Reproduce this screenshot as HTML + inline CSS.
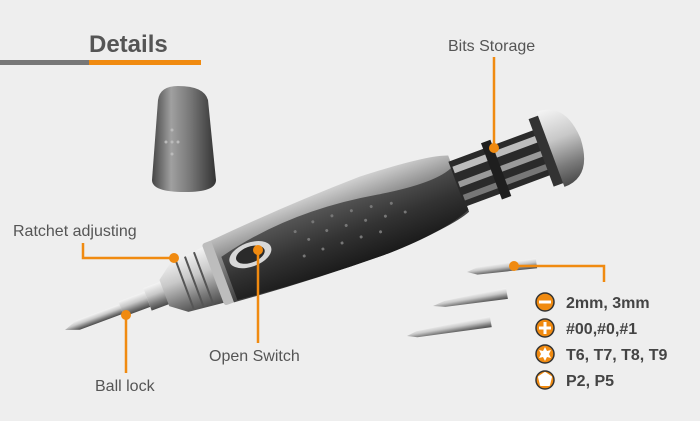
<!DOCTYPE html>
<html><head><meta charset="utf-8"><style>
html,body{margin:0;padding:0;background:#eeeeee;}
svg{display:block;}
text{font-family:"Liberation Sans","DejaVu Sans",sans-serif;}
</style></head><body>
<svg width="700" height="421" viewBox="0 0 700 421" xmlns="http://www.w3.org/2000/svg">
<defs>
<linearGradient id="silver" x1="0" y1="0" x2="0" y2="1">
<stop offset="0" stop-color="#f4f4f4"/><stop offset="0.4" stop-color="#c8c8c8"/><stop offset="0.75" stop-color="#7a7a7a"/><stop offset="1" stop-color="#4a4a4a"/></linearGradient>
<linearGradient id="body" x1="0" y1="0" x2="0" y2="1">
<stop offset="0" stop-color="#d0d0d0"/><stop offset="0.35" stop-color="#8a8a8a"/><stop offset="1" stop-color="#333"/></linearGradient>
<linearGradient id="rub" x1="0" y1="0" x2="0" y2="1">
<stop offset="0" stop-color="#555"/><stop offset="0.5" stop-color="#333"/><stop offset="1" stop-color="#1a1a1a"/></linearGradient>
<linearGradient id="cap" x1="0" y1="0" x2="1" y2="0">
<stop offset="0" stop-color="#444"/><stop offset="0.3" stop-color="#a0a0a0"/><stop offset="0.6" stop-color="#777"/><stop offset="1" stop-color="#333"/></linearGradient>
</defs>

<text x="89" y="52" font-size="24" font-weight="bold" fill="#555">Details</text>
<rect x="0" y="60" width="89" height="5" fill="#777"/>
<rect x="89" y="60" width="112" height="5" fill="#f08a10"/>

<path d="M158 100 Q160 86 178 86 Q204 86 208 100 L216 180 Q216 192 185 192 Q152 192 152 180 Z" fill="url(#cap)"/>
<g fill="#bbb"><circle cx="172" cy="130" r="1.5"/><circle cx="172" cy="142" r="1.5"/><circle cx="172" cy="154" r="1.5"/><circle cx="166" cy="142" r="1.5"/><circle cx="178" cy="142" r="1.5"/></g>

<g transform="translate(65,330) rotate(-20.4)">
  <path d="M0 0 L14 -5 L60 -5 L60 5 L14 5 Z" fill="url(#silver)"/>
  <rect x="60" y="-8" width="28" height="16" fill="url(#silver)"/>
  <rect x="88" y="-12" width="20" height="24" fill="url(#silver)"/>
  <path d="M106 -14 L122 -26 L160 -30 L160 30 L122 26 L106 14 Z" fill="url(#silver)"/>
  <g stroke="#555" stroke-width="2"><line x1="128" y1="-25" x2="128" y2="25"/><line x1="138" y1="-27" x2="138" y2="27"/><line x1="148" y1="-28" x2="148" y2="28"/></g>
  <rect x="158" y="-33" width="12" height="66" rx="3" fill="#bdbdbd"/>
  <path d="M168 -33 Q250 -40 330 -41 Q400 -38 420 -30 L420 30 Q400 38 330 41 Q250 40 168 33 Z" fill="url(#body)"/>
  <path d="M172 -14 Q250 -34 340 -18 Q400 -8 420 -18 L420 28 Q390 40 330 41 Q250 40 172 32 Z" fill="url(#rub)"/>
  <ellipse cx="200" cy="-6" rx="22" ry="12" fill="#d8d8d8"/>
  <ellipse cx="200" cy="-6" rx="15" ry="8" fill="#2a2a2a"/>
  <g fill="#777">
    <circle cx="250" cy="-12" r="1.5"/><circle cx="270" cy="-15" r="1.5"/><circle cx="290" cy="-14" r="1.5"/><circle cx="310" cy="-12" r="1.5"/><circle cx="330" cy="-9" r="1.5"/><circle cx="350" cy="-5" r="1.5"/>
    <circle cx="260" cy="0" r="1.5"/><circle cx="280" cy="-2" r="1.5"/><circle cx="300" cy="0" r="1.5"/><circle cx="320" cy="2" r="1.5"/><circle cx="340" cy="5" r="1.5"/><circle cx="360" cy="8" r="1.5"/>
    <circle cx="250" cy="14" r="1.5"/><circle cx="270" cy="14" r="1.5"/><circle cx="290" cy="15" r="1.5"/><circle cx="310" cy="16" r="1.5"/><circle cx="330" cy="18" r="1.5"/>
  </g>
  <rect x="418" y="-24" width="94" height="48" fill="#2a2a2a"/>
  <rect x="420" y="-18" width="90" height="7" fill="#bdbdbd"/>
  <rect x="420" y="-2" width="90" height="6" fill="#9a9a9a"/>
  <rect x="420" y="12" width="90" height="6" fill="#777"/>
  <rect x="455" y="-30" width="10" height="60" fill="#1e1e1e"/>
  <rect x="508" y="-36" width="12" height="72" fill="#333"/>
  <path d="M518 -40 Q548 -40 550 0 Q548 40 518 40 Z" fill="url(#silver)"/>
</g>

<g transform="translate(467,272) rotate(-8)"><path d="M0 0 L10 -3 L70 -4 L70 6 L10 4 Z" fill="url(#silver)"/></g>
<g transform="translate(433,306) rotate(-10)"><path d="M0 0 L12 -3 L75 -5 L75 6 L12 3 Z" fill="url(#silver)"/></g>
<g transform="translate(407,336) rotate(-10)"><path d="M0 0 L10 -3 L85 -5 L85 6 L10 3 Z" fill="url(#silver)"/></g>

<g stroke="#f08a10" stroke-width="2.5" fill="none">
  <path d="M494 57 L494 148"/>
  <path d="M83 243 L83 258 L174 258"/>
  <path d="M258 250 L258 343"/>
  <path d="M126 315 L126 373"/>
  <path d="M514 266 L604 266 L604 282"/>
</g>
<g fill="#f08a10">
  <circle cx="494" cy="148" r="5"/><circle cx="174" cy="258" r="5"/><circle cx="258" cy="250" r="5"/><circle cx="126" cy="315" r="5"/><circle cx="514" cy="266" r="5"/>
</g>
<g font-size="16" fill="#555">
  <text x="448" y="51">Bits Storage</text>
  <text x="13" y="236">Ratchet adjusting</text>
  <text x="209" y="361">Open Switch</text>
  <text x="95" y="391">Ball lock</text>
</g>

<g stroke="#333" stroke-width="1.5" fill="#f08a10">
  <circle cx="545" cy="302" r="9"/><circle cx="545" cy="328" r="9"/><circle cx="545" cy="354" r="9"/><circle cx="545" cy="380" r="9"/>
</g>
<rect x="539" y="300.5" width="12" height="3" fill="#fff"/>
<rect x="539" y="326.5" width="12" height="3" fill="#fff"/><rect x="543.5" y="322" width="3" height="12" fill="#fff"/>
<path d="M545 347 L547 351 L551 350 L549 354 L551 358 L547 357 L545 361 L543 357 L539 358 L541 354 L539 350 L543 351 Z" fill="#fff"/>
<path d="M545 373 L551 377 L549 385 L541 385 L539 377 Z" fill="#fff" stroke="#fff" stroke-width="2" stroke-linejoin="round"/>
<g font-size="16" font-weight="bold" fill="#444">
  <text x="566" y="308">2mm, 3mm</text>
  <text x="566" y="334">#00,#0,#1</text>
  <text x="566" y="360">T6, T7, T8, T9</text>
  <text x="566" y="386">P2, P5</text>
</g>
</svg>
</body></html>
